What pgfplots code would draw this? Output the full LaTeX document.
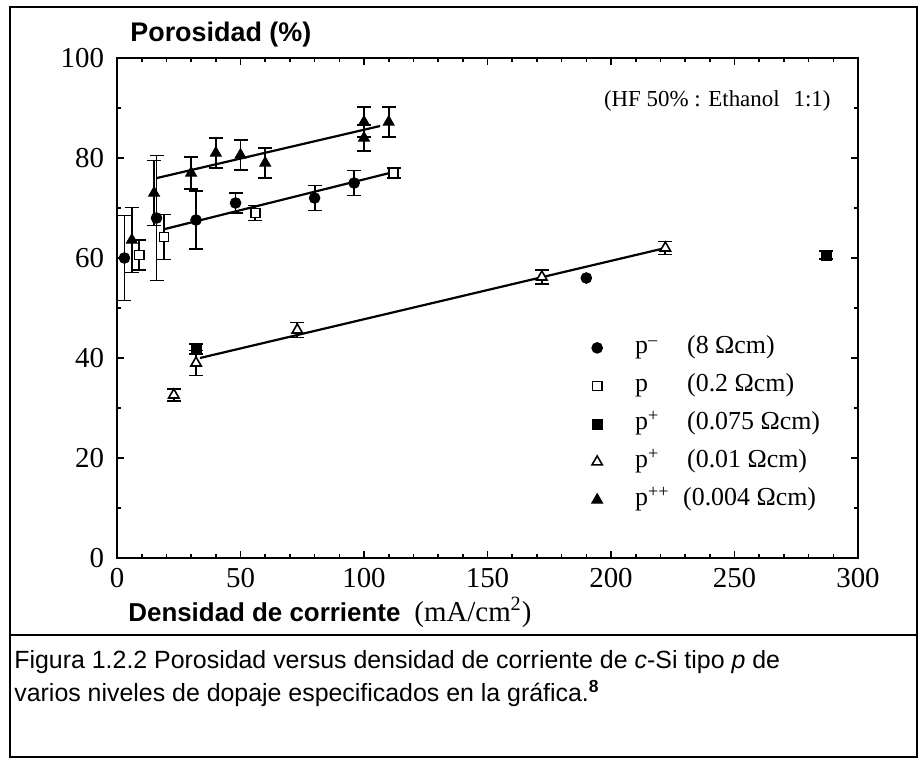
\documentclass[border=0pt]{standalone}
\usepackage{fontspec}
\setmainfont{Liberation Serif}
\newfontfamily\arial{Liberation Sans}
\usepackage{pgfplots}
\pgfplotsset{compat=1.18}
\begin{document}
\begin{tikzpicture}
\begin{scope}[x=0.5bp,y=-0.5bp]
\useasboundingbox (0,0) rectangle (920,760);
\draw[line width=1bp] (10,7) rectangle (917,757);
\draw[line width=1bp] (10,635) -- (917,635);
\node[anchor=base west,inner sep=0pt,font=\arial\bfseries\fontsize{13.5}{15}\selectfont] at (130,41) {Porosidad (\%)};
\node[anchor=base west,inner sep=0pt] at (128,621) {{\arial\bfseries\fontsize{13}{15}\selectfont Densidad de corriente}\hspace{7bp}{\fontsize{14.5}{17}\selectfont (mA/cm\textsuperscript{2})}};
\node[anchor=base west,inner sep=0pt,font=\arial\fontsize{12.5}{15}\selectfont] at (14,668) {Figura 1.2.2 Porosidad versus densidad de corriente de \textit{c}-Si tipo \textit{p} de};
\node[anchor=base west,inner sep=0pt,font=\arial\fontsize{12.5}{15}\selectfont] at (14,701) {varios niveles de dopaje especificados en la gráfica.\textsuperscript{\textbf{8}}};
\end{scope}
\begin{axis}[
  at={(58.5bp,-279bp)}, anchor=south west,
  scale only axis, width=370.5bp, height=250bp,
  xmin=0, xmax=300, ymin=0, ymax=100,
  xtick={0,50,...,300}, ytick={0,20,...,100},
  minor x tick num=4, minor y tick num=1,
  axis line style={line width=1bp},
  every tick/.style={black, line width=0.8bp},
  major tick length=3.5bp, minor tick length=1.8bp,
  tick label style={font=\fontsize{14.5}{14.5}\selectfont},
  /pgf/number format/assume math mode=true,
  xticklabel style={yshift=-1.5bp},
  yticklabel style={xshift=-3bp},
  legend style={at={(axis cs:191,44.5)}, anchor=north west, draw=none, fill=none, inner sep=0pt,
    row sep=7bp, font=\fontsize{13}{13}\selectfont,
    nodes={inner sep=0pt, text height=9bp, text depth=3bp, anchor=west}},
  legend cell align=left,
  legend image code/.code={\path[draw=none] (0bp,0bp) -- (23bp,0bp); \draw[#1] plot coordinates {(4bp,0bp)};},
]
% fit lines
\addplot[black, line width=1.1bp, forget plot] coordinates {(33.6,40) (222,62)};
\addplot[black, line width=1.1bp, forget plot] coordinates {(19.4,65.8) (112,77.2)};
\addplot[black, line width=1.1bp, forget plot] coordinates {(16.2,76) (106.5,86.4)};
% p- (8 Ohm cm) filled circles
\addplot[black, only marks, mark=*, mark size=2.7bp, mark options={solid, fill=black},
  error bars/.cd, y dir=both, y explicit, error bar style={line width=0.9bp},
  error mark options={rotate=90, line width=0.9bp, mark size=3.5bp}]
  table[x=x, y=y, y error=e] {
x y e
3 60 8.5
16 68 12.5
32 67.6 5.8
48 71 2
80 72 2.5
96 75 2.5
};
\addlegendentry{\makebox[26bp][l]{p\textsuperscript{--}}(8 Ωcm)}
\addplot[black, only marks, mark=*, mark size=2.7bp, mark options={solid, fill=black}, forget plot]
  coordinates {(190,56)};
% p (0.2 Ohm cm) open squares
\addplot[black, only marks, mark=square*, mark size=2.3bp, mark options={solid, fill=white, line width=0.8bp},
  error bars/.cd, y dir=both, y explicit, error bar style={line width=0.9bp},
  error mark options={rotate=90, line width=0.9bp, mark size=3.5bp}]
  table[x=x, y=y, y error=e] {
x y e
9 60.6 3
19 64.2 4.5
56 69 1.5
112 77 1
};
\addlegendentry{\makebox[26bp][l]{p}(0.2 Ωcm)}
% p+ (0.075 Ohm cm) filled squares
\addplot[black, only marks, mark=square*, mark size=2.5bp, mark options={solid, fill=black},
  error bars/.cd, y dir=both, y explicit, error bar style={line width=0.9bp},
  error mark options={rotate=90, line width=0.9bp, mark size=3.5bp}]
  table[x=x, y=y, y error=e] {
x y e
32 41.8 1
287 60.6 0.8
};
\addlegendentry{\makebox[26bp][l]{p\textsuperscript{+}}(0.075 Ωcm)}
% p+ (0.01 Ohm cm) open triangles
\addplot[black, only marks, mark=triangle*, mark size=3bp, mark options={solid, fill=white, line width=0.8bp},
  error bars/.cd, y dir=both, y explicit, error bar style={line width=0.9bp},
  error mark options={rotate=90, line width=0.9bp, mark size=3.5bp}]
  table[x=x, y=y, y error=e] {
x y e
23 32.6 1.2
32 39 2.5
73 45.6 1.5
172 56.2 1.4
222 62 1.3
};
\addlegendentry{\makebox[26bp][l]{p\textsuperscript{+}}(0.01 Ωcm)}
% p++ (0.004 Ohm cm) filled triangles
\addplot[black, only marks, mark=triangle*, mark size=3.2bp, mark options={solid, fill=black},
  error bars/.cd, y dir=both, y explicit, error bar style={line width=0.9bp},
  error mark options={rotate=90, line width=0.9bp, mark size=3.5bp}]
  table[x=x, y=y, y error=e] {
x y e
6 63.6 6.5
15 73 6.5
30 77 3.2
40 81 3
50 80.6 3
60 79 3
100 87.2 3
100 84 2.6
110 87.2 3
};
\addlegendentry{\makebox[24bp][l]{p\textsuperscript{++}}(0.004 Ωcm)}
\node[anchor=west, inner sep=0pt, font=\fontsize{11.5}{12}\selectfont] at (axis cs:197,91.4) {(HF 50\% : Ethanol\hspace{7bp}1:1)};
\end{axis}
\end{tikzpicture}
\end{document}
